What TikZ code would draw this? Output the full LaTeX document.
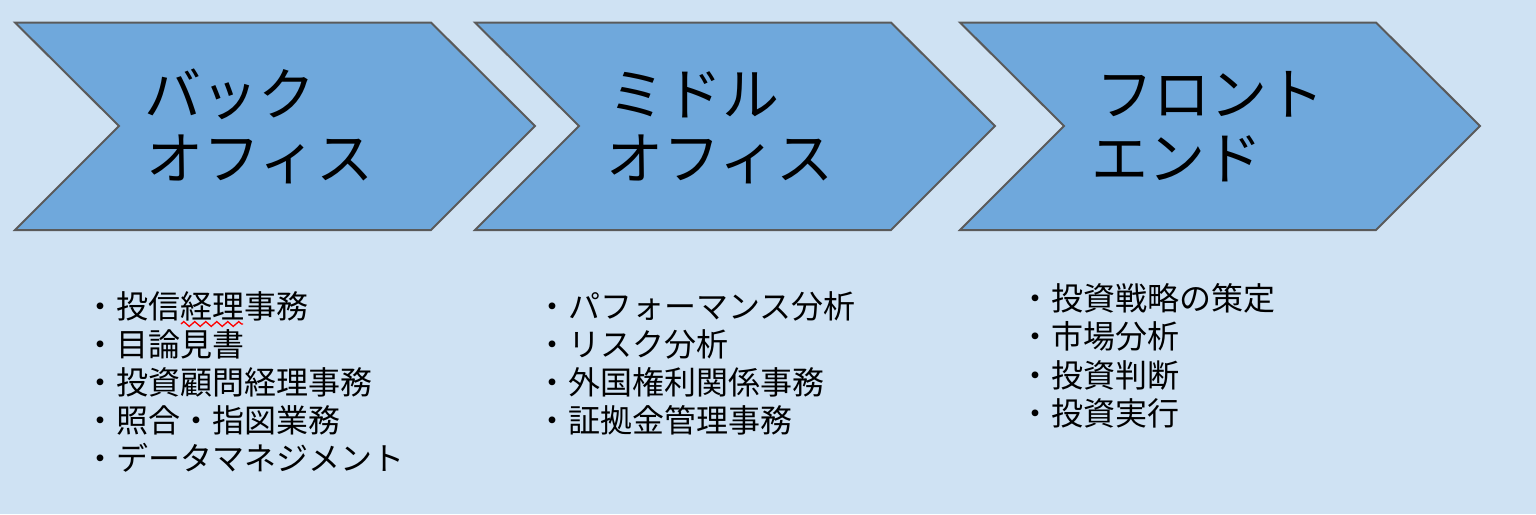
\documentclass[tikz,border=0pt]{standalone}
\usepackage{fontspec}
\setmainfont{Noto Sans CJK JP}
\usetikzlibrary{decorations.pathmorphing}
\definecolor{bgblue}{HTML}{CFE2F3}
\definecolor{chevfill}{HTML}{6FA8DC}
\definecolor{chevline}{HTML}{5A5A5A}
\tikzset{
  chev/.style={fill=chevfill, draw=chevline, line width=2pt, line join=miter},
  title/.style={font=\fontsize{57}{65}\selectfont, anchor=base west, inner sep=0pt, text=black},
  item/.style={font=\fontsize{32}{38}\selectfont, anchor=base west, inner sep=0pt, text=black},
  spell/.style={draw=red, line width=1.3pt, decorate, decoration={zigzag, amplitude=2.4pt, segment length=11pt}}
}
\begin{document}
\begin{tikzpicture}[x=1pt,y=-1pt]
\useasboundingbox (0,0) rectangle (1536,514);
\fill[bgblue] (0,0) rectangle (1536,514);
% chevrons
\draw[chev] (15,22.5) -- (431,22.5) -- (535,126) -- (431,230) -- (15,230) -- (119,126) -- cycle;
\draw[chev] (475,22.5) -- (891,22.5) -- (995,126) -- (891,230) -- (475,230) -- (579,126) -- cycle;
\draw[chev] (960,22.5) -- (1376,22.5) -- (1480,126) -- (1376,230) -- (960,230) -- (1064,126) -- cycle;
% titles
\node[title] (t1a) at (144,115) {バック};
\node[title] (t1b) at (146,179) {オフィス};
\node[title] (t2a) at (608,115) {ミドル};
\node[title] (t2b) at (606,179) {オフィス};
\node[title] (t3a) at (1096,115) {フロント};
\node[title] (t3b) at (1091,179) {エンド};
% list 1
\node[item] (l1a) at (84,318) {・投信経理事務};
\node[item] (l1b) at (84,356) {・目論見書};
\node[item] (l1c) at (84,394) {・投資顧問経理事務};
\node[item] (l1d) at (84,432) {・照合・指図業務};
\node[item] (l1e) at (84,470) {・データマネジメント};
\coordinate (w1) at (181,324);
\coordinate (w2) at (243,324);
\draw[spell] (w1) -- (w2);
% list 2
\node[item] (l2a) at (536,318) {・パフォーマンス分析};
\node[item] (l2b) at (536,356) {・リスク分析};
\node[item] (l2c) at (536,394) {・外国権利関係事務};
\node[item] (l2d) at (536,432) {・証拠金管理事務};
% list 3
\node[item] (l3a) at (1019,310) {・投資戦略の策定};
\node[item] (l3b) at (1019,348.5) {・市場分析};
\node[item] (l3c) at (1019,387) {・投資判断};
\node[item] (l3d) at (1019,425) {・投資実行};
\end{tikzpicture}
\end{document}
